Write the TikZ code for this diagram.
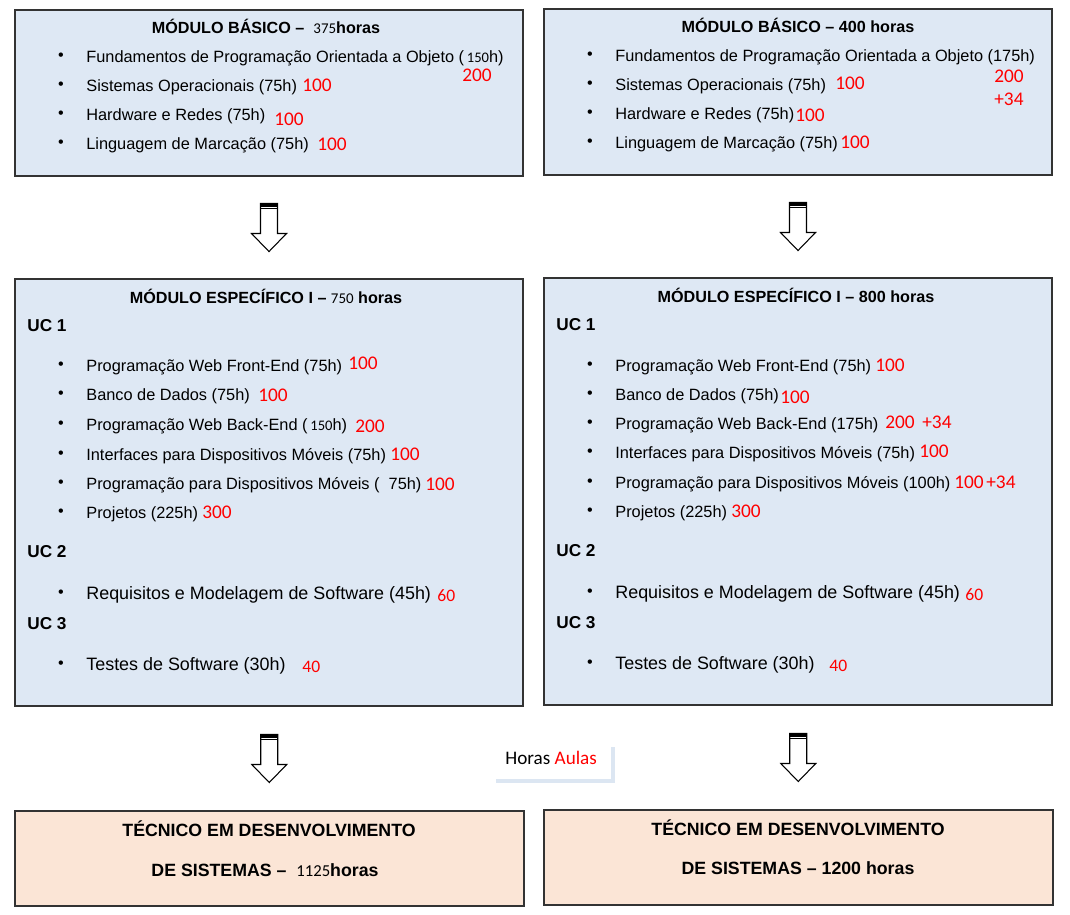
\documentclass[tikz,border=0pt]{standalone}
\usepackage{fontspec}
\setmainfont{Liberation Sans}
\newfontfamily\calfont{Carlito}
\usetikzlibrary{calc}

\definecolor{modblue}{HTML}{DEE8F4}
\definecolor{tecpeach}{HTML}{FBE5D6}
\definecolor{shadowblue}{HTML}{DCE6F2}

\tikzset{
  pics/blockdown/.style={code={
    \draw[fill=white, line width=0.6pt, line join=miter]
      (-8.5,-24)--(-8.5,6)--(-17.5,6)--(0,24)--(17.5,6)--(8.5,6)--(8.5,-24)--cycle;
    \fill (-8.5,-24) rectangle (8.5,-20.5);
    \draw[line width=0.4pt] (-8.5,-19)--(8.5,-19);
  }}
}

\begin{document}
\begin{tikzpicture}[x=0.02cm, y=-0.02cm,
  modbox/.style={draw=black!80, line width=0.8pt, fill=modblue, minimum width=10.16cm, inner sep=0},
  tecbox/.style={draw=black!80, line width=0.8pt, fill=tecpeach, minimum width=10.18cm, minimum height=1.9cm, inner sep=0},
  head/.style={inner sep=0, font=\bfseries\fontsize{9.2}{11}\selectfont},
  uc/.style={anchor=mid west, inner sep=0, yshift=-1.1pt, font=\bfseries\fontsize{9.8}{12}\selectfont},
  item/.style={anchor=mid west, inner sep=0, yshift=-1.1pt, font=\fontsize{9.3}{11}\selectfont},
  bigitem/.style={item, font=\fontsize{10.2}{12}\selectfont},
  dot/.style={inner sep=0, yshift=-0.6pt, font=\fontsize{9.2}{11}\selectfont},
  num/.style={anchor=mid west, inner sep=0, yshift=-0.8pt, text=red, font=\calfont\fontsize{11}{13}\selectfont},
  smallnum/.style={num, font=\calfont\fontsize{10}{12}\selectfont}]
  \useasboundingbox (0,0) rectangle (1070,914);

  % boxes
  \node[modbox, minimum height=3.32cm] (bas1) at (269,93) {};
  \node[modbox, minimum height=3.32cm] (bas2) at (798,92) {};
  \node[modbox, minimum height=8.54cm] (esp1) at (269,492.5) {};
  \node[modbox, minimum height=8.54cm] (esp2) at (798,491.5) {};
  \node[tecbox] (tec1) at (269.5,858.5) {};
  \node[tecbox] (tec2) at (798.5,857.5) {};

  \foreach \a/\b in {bas1/esp1, bas2/esp2, esp1/tec1, esp2/tec2}
    \pic at ($(\a.south)!0.5!(\b.north)$) {blockdown};

  % modulo basico
  \node[head] (bas1head) at (266,26)
    {MÓDULO BÁSICO –\ \ {\calfont\mdseries\fontsize{8.5}{10}\selectfont 375}horas};
  \foreach \y/\t [count=\i] in {56/{Fundamentos de Programação Orientada a Objeto (\,{\calfont\fontsize{8.3}{10}\selectfont 150}h)},
      85/{Sistemas Operacionais (75h)}, 114/{Hardware e Redes (75h)}, 143/{Linguagem de Marcação (75h)}}{
    \node[dot] (bas1dot\i) at (61,\y) {•};
    \node[item] (bas1item\i) at (86,\y) {\t};
  }
  \node[num] (bas1n1) at (462,75) {200};
  \node[num] (bas1n2) at (302,85) {100};
  \node[num] (bas1n3) at (274,119) {100};
  \node[num] (bas1n4) at (317,144) {100};

  \node[head] (bas2head) at (798,25) {MÓDULO BÁSICO – 400 horas};
  \foreach \y/\t [count=\i] in {55/{Fundamentos de Programação Orientada a Objeto (175h)},
      84/{Sistemas Operacionais (75h)}, 113/{Hardware e Redes (75h)}, 142/{Linguagem de Marcação (75h)}}{
    \node[dot] (bas2dot\i) at (590,\y) {•};
    \node[item] (bas2item\i) at (615,\y) {\t};
  }
  \node[num] (bas2n1) at (994,76) {200};
  \node[num] (bas2n2) at (994,99) {+34};
  \node[num] (bas2n3) at (835,83) {100};
  \node[num] (bas2n4) at (795,115) {100};
  \node[num] (bas2n5) at (840,142) {100};

  % modulo especifico
  \node[head] (esp1head) at (266,296)
    {MÓDULO ESPECÍFICO I –\ {\calfont\mdseries\fontsize{8.5}{10}\selectfont 750} horas};
  \node[uc] (esp1uc1) at (27,325) {UC 1};
  \node[uc] (esp1uc2) at (27,551) {UC 2};
  \node[uc] (esp1uc3) at (27,623) {UC 3};
  \foreach \y/\t [count=\i] in {365/{Programação Web Front-End (75h)}, 394/{Banco de Dados (75h)},
      424/{Programação Web Back-End (\,{\calfont\fontsize{8.3}{10}\selectfont 150}h)},
      454/{Interfaces para Dispositivos Móveis (75h)},
      483/{Programação para Dispositivos Móveis (\ \ 75h)}, 512/{Projetos (225h)}}{
    \node[dot] (esp1dot\i) at (61,\y) {•};
    \node[item] (esp1item\i) at (86,\y) {\t};
  }
  \node[dot] (esp1dot7) at (61,593) {•};
  \node[bigitem] (esp1item7) at (86,593) {Requisitos e Modelagem de Software (45h)};
  \node[dot] (esp1dot8) at (61,664) {•};
  \node[bigitem] (esp1item8) at (86,664) {Testes de Software (30h)};
  \node[num] (esp1n1) at (348,363) {100};
  \node[num] (esp1n2) at (258,395) {100};
  \node[num] (esp1n3) at (355,426) {200};
  \node[num] (esp1n4) at (390,454) {100};
  \node[num] (esp1n5) at (425,484) {100};
  \node[num] (esp1n6) at (202,512) {300};
  \node[smallnum] (esp1n7) at (437,595) {60};
  \node[smallnum] (esp1n8) at (302,666) {40};

  \node[head] (esp2head) at (796,295) {MÓDULO ESPECÍFICO I – 800 horas};
  \node[uc] (esp2uc1) at (556,324) {UC 1};
  \node[uc] (esp2uc2) at (556,550) {UC 2};
  \node[uc] (esp2uc3) at (556,622) {UC 3};
  \foreach \y/\t [count=\i] in {365/{Programação Web Front-End (75h)}, 394/{Banco de Dados (75h)},
      423/{Programação Web Back-End (175h)}, 452/{Interfaces para Dispositivos Móveis (75h)},
      482/{Programação para Dispositivos Móveis (100h)}, 511/{Projetos (225h)}}{
    \node[dot] (esp2dot\i) at (590,\y) {•};
    \node[item] (esp2item\i) at (615,\y) {\t};
  }
  \node[dot] (esp2dot7) at (590,592) {•};
  \node[bigitem] (esp2item7) at (615,592) {Requisitos e Modelagem de Software (45h)};
  \node[dot] (esp2dot8) at (590,663) {•};
  \node[bigitem] (esp2item8) at (615,663) {Testes de Software (30h)};
  \node[num] (esp2n1) at (875,365) {100};
  \node[num] (esp2n2) at (780,397) {100};
  \node[num] (esp2n3) at (885,422) {200};
  \node[num] (esp2n4) at (922,422) {+34};
  \node[num] (esp2n5) at (919,451) {100};
  \node[num] (esp2n6) at (954,482) {100};
  \node[num] (esp2n7) at (986,482) {+34};
  \node[num] (esp2n8) at (731,511) {300};
  \node[smallnum] (esp2n9) at (965,594) {60};
  \node[smallnum] (esp2n10) at (829,665) {40};

  % tecnico
  \node[head, font=\bfseries\fontsize{10.1}{12}\selectfont] (tec1a) at (269,829) {TÉCNICO EM DESENVOLVIMENTO};
  \node[head, font=\bfseries\fontsize{10.1}{12}\selectfont] (tec1b) at (265,870)
    {DE SISTEMAS –\ \ {\calfont\mdseries\fontsize{9.5}{11}\selectfont 1125}horas};
  \node[head, font=\bfseries\fontsize{10.1}{12}\selectfont] (tec2a) at (798,828) {TÉCNICO EM DESENVOLVIMENTO};
  \node[head, font=\bfseries\fontsize{10.1}{12}\selectfont] (tec2b) at (798,868) {DE SISTEMAS – 1200 horas};

  % legenda
  \draw[shadowblue, line width=0.8mm] (496,781) -| (613,747);
  \node[anchor=mid west, inner sep=0, font=\calfont\fontsize{10.9}{13}\selectfont] (legend) at (505,760)
    {Horas \textcolor{red}{Aulas}};
\end{tikzpicture}
\end{document}
